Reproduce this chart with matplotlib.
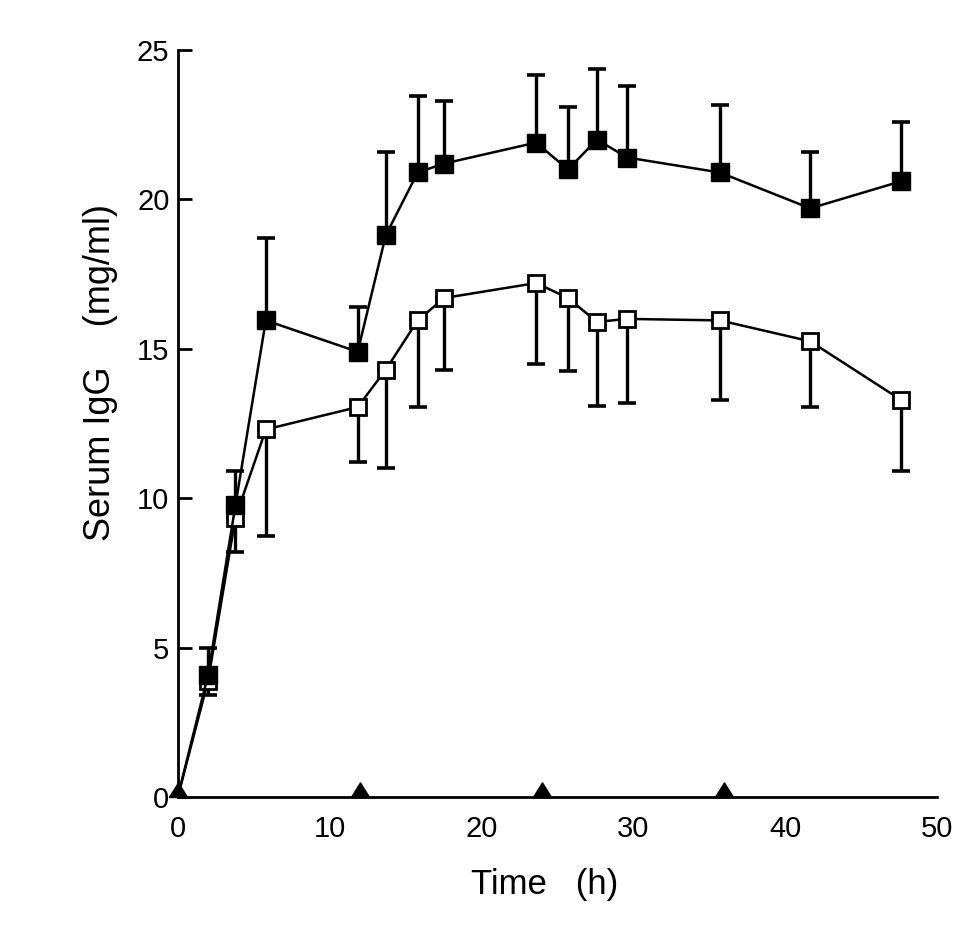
import numpy as np
import matplotlib
matplotlib.use('Agg')
import matplotlib.pyplot as plt

plt.rcParams['font.family'] = ['Liberation Sans Narrow', 'Liberation Sans', 'DejaVu Sans']

# time points (h)
time_h = [0, 2.0, 3.8, 5.8, 11.85, 13.7, 15.8, 17.55, 23.6, 25.7, 27.6, 29.6, 35.7, 41.65, 47.6]

# filled squares: mean and upper error bar end
filled_mean = [0, 4.1, 9.77, 15.95, 14.9, 18.8, 20.9, 21.2, 21.9, 21.0, 22.0, 21.4, 20.9, 19.7, 20.6]
filled_top = [0, 5.0, 10.9, 18.7, 16.4, 21.6, 23.45, 23.3, 24.15, 23.1, 24.35, 23.8, 23.15, 21.6, 22.6]

# open squares: mean and lower error bar end
open_mean = [0, 3.9, 9.35, 12.3, 13.05, 14.3, 15.95, 16.7, 17.2, 16.7, 15.9, 16.0, 15.95, 15.25, 13.3]
open_bottom = [0, 3.4, 8.2, 8.75, 11.2, 11.0, 13.05, 14.3, 14.5, 14.25, 13.1, 13.2, 13.3, 13.05, 10.9]

# dosing times (triangles on the time axis)
dose_times = [0, 12, 24, 36]

x_ticks = [0, 10, 20, 30, 40, 50]
y_ticks = [0, 5, 10, 15, 20, 25]

fm = np.array(filled_mean)
om = np.array(open_mean)
up_err = np.array(filled_top) - fm
lo_err = om - np.array(open_bottom)

fig = plt.figure(figsize=(9.66, 9.32), dpi=100)
ax = fig.add_axes([0.184, 0.1448, 0.786, 0.8016])

# error bars (one-sided)
ax.errorbar(time_h[1:], om[1:], yerr=[lo_err[1:], np.zeros(len(om) - 1)], fmt='none',
            ecolor='black', elinewidth=2.4, capsize=6.5, capthick=2.6, zorder=2)
ax.errorbar(time_h[1:], fm[1:], yerr=[np.zeros(len(fm) - 1), up_err[1:]], fmt='none',
            ecolor='black', elinewidth=2.4, capsize=6.5, capthick=2.6, zorder=2)

# open series
ax.plot(time_h, om, color='black', lw=1.8, zorder=3)
ax.plot(time_h[1:], om[1:], ls='none', marker='s', ms=12, mfc='white', mec='black',
        mew=2.0, zorder=4)

# filled series
ax.plot(time_h, fm, color='black', lw=1.8, zorder=5)
ax.plot(time_h[1:], fm[1:], ls='none', marker='s', ms=13, mfc='black', mec='black',
        zorder=6)

# dosing triangles sitting on the x axis
tri = [(-1, 0), (1, 0), (0, 1.6), (-1, 0)]
ax.plot(dose_times, np.zeros(len(dose_times)), ls='none', marker=tri, ms=21,
        color='black', clip_on=False, zorder=7)

ax.set_xlim(0, 50)
ax.set_ylim(0, 25)
ax.set_xticks(x_ticks)
ax.set_yticks(y_ticks)

for s in ['top', 'right']:
    ax.spines[s].set_visible(False)
for s in ['left', 'bottom']:
    ax.spines[s].set_linewidth(2.0)

ax.tick_params(axis='x', length=0, pad=13, labelsize=21)
ax.tick_params(axis='y', direction='in', length=10, width=2.0, pad=6, labelsize=21)

ax.set_xlabel('Time   (h)', fontsize=25)
ax.set_ylabel('Serum IgG    (mg/ml)', fontsize=26)
ax.xaxis.set_label_coords(0.483, -0.095)
ax.yaxis.set_label_coords(-0.079, 0.568)

fig.savefig('out.png', dpi=100, facecolor='white')
